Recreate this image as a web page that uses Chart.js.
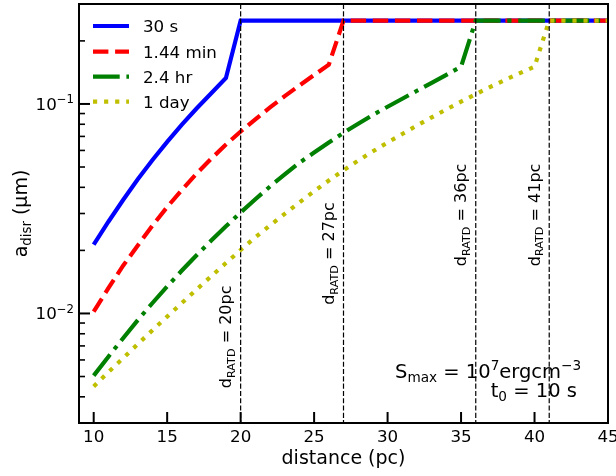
<!DOCTYPE html>
<html><head><meta charset="utf-8">
<script src="https://cdn.jsdelivr.net/npm/chart.js@4.4.0/dist/chart.umd.min.js"></script>
<style>html,body{margin:0;padding:0;background:#fff;}#wrap{width:616px;height:476px;}</style>
</head><body><div id="wrap"><canvas id="c" width="616" height="476"></canvas></div>
<script>
// ---------- data ----------
const distance = [10,11,12,13,14,15,16,17,18,19,20,21,22,23,24,25,26,27,28,29,30,31,32,33,34,35,36,37,38,39,40,41,42,43,44,45];
const a30s   = [0.0213,0.0274,0.0348,0.0437,0.0540,0.0659,0.0796,0.0951,0.1125,0.133,
                0.25,0.25,0.25,0.25,0.25,0.25,0.25,0.25,0.25,0.25,0.25,0.25,0.25,0.25,0.25,0.25,0.25,0.25,0.25,0.25,0.25,0.25,0.25,0.25,0.25,0.25];
const a144min= [0.0102,0.0132,0.0169,0.0211,0.0263,0.0322,0.0389,0.0465,0.0548,0.0640,0.0739,0.0845,0.0962,0.109,0.1225,0.1375,0.154,
                0.25,0.25,0.25,0.25,0.25,0.25,0.25,0.25,0.25,0.25,0.25,0.25,0.25,0.25,0.25,0.25,0.25,0.25,0.25];
const a24hr  = [0.00505,0.00622,0.00762,0.00929,0.01122,0.01346,0.01603,0.01897,0.02228,0.02606,0.03034,0.0351,0.0404,0.0461,0.0524,0.0586,0.0655,0.0728,0.0805,0.0887,0.0970,0.1059,0.1156,0.126,0.1377,0.1507,
                0.25,0.25,0.25,0.25,0.25,0.25,0.25,0.25,0.25,0.25];
const a1day  = [0.00448,0.00525,0.00612,0.00714,0.00832,0.00966,0.01122,0.0130,0.01507,0.0174,0.0201,0.0231,0.0263,0.0299,0.0339,0.0383,0.0431,0.0482,0.0537,0.0594,0.0655,0.0719,0.0789,0.0863,0.0942,0.1026,0.1114,0.1208,0.1303,0.1403,0.1507,
                0.25,0.25,0.25,0.25,0.25];
const seriesNames = ['30 s','1.44 min','2.4 hr','1 day'];
const dRatd = [20, 27, 36, 41];
const xTickLabels = [10,15,20,25,30,35,40,45];
const yMajorTicks = [0.01, 0.1];
const yMinorTicks = [0.003,0.004,0.005,0.006,0.007,0.008,0.009,0.02,0.03,0.04,0.05,0.06,0.07,0.08,0.09,0.2,0.3];

// ---------- styles ----------
const FONT = '"DejaVu Sans", sans-serif';
const LW = 4.17;
const styles = [
  {color:'#0000ff', dash:[]},
  {color:'#ff0000', dash:[15.4,6.7]},
  {color:'#008000', dash:[26.7,6.7,4.2,6.7]},
  {color:'#bfbf00', dash:[4.17,6.9]}
];
const seriesValues = [a30s, a144min, a24hr, a1day];

const datasets = seriesValues.map((vals, i) => ({
  label: seriesNames[i],
  data: distance.map((d, j) => ({x: d, y: vals[j]})),
  borderColor: styles[i].color,
  backgroundColor: styles[i].color,
  borderWidth: LW,
  borderDash: styles[i].dash,
  borderCapStyle: 'butt',
  borderJoinStyle: 'miter',
  pointRadius: 0,
  tension: 0,
  fill: false,
  order: 4 - i
}));

function drawMath(ctx, parts, x, y, size){
  let cx = x;
  for (const [t, k] of parts){
    const s = k ? size*0.7 : size;
    ctx.font = s + 'px ' + FONT;
    const dy = k === 1 ? size*0.22 : (k === 2 ? -size*0.40 : 0);
    ctx.fillText(t, cx, y + dy);
    cx += ctx.measureText(t).width;
  }
  return cx - x;
}
function mathWidth(ctx, parts, size){
  let w = 0;
  for (const [t, k] of parts){
    ctx.font = (k ? size*0.7 : size) + 'px ' + FONT;
    w += ctx.measureText(t).width;
  }
  return w;
}

const overlay = {
  id: 'overlay',
  afterDatasetsDraw(chart){
    const ctx = chart.ctx, ca = chart.chartArea;
    const xs = chart.scales.x, ys = chart.scales.y;
    ctx.save();
    // vertical d_RATD lines
    ctx.strokeStyle = '#000';
    ctx.lineWidth = 1.2;
    ctx.setLineDash([5.1, 2.2]);
    for (const d of dRatd){
      const px = xs.getPixelForValue(d);
      ctx.beginPath(); ctx.moveTo(px, ca.top); ctx.lineTo(px, ca.bottom); ctx.stroke();
    }
    ctx.setLineDash([]);
    // frame
    ctx.lineWidth = 2;
    ctx.strokeRect(ca.left, ca.top, ca.right - ca.left, ca.bottom - ca.top);
    // ticks
    ctx.lineWidth = 2;
    for (const v of xTickLabels){
      const px = xs.getPixelForValue(v);
      ctx.beginPath(); ctx.moveTo(px, ca.bottom); ctx.lineTo(px, ca.bottom - 11); ctx.stroke();
    }
    for (const v of yMajorTicks){
      const py = ys.getPixelForValue(v);
      ctx.beginPath(); ctx.moveTo(ca.left, py); ctx.lineTo(ca.left + 11, py); ctx.stroke();
    }
    ctx.lineWidth = 1.6;
    for (const v of yMinorTicks){
      const py = ys.getPixelForValue(v);
      ctx.beginPath(); ctx.moveTo(ca.left, py); ctx.lineTo(ca.left + 6, py); ctx.stroke();
    }
    // tick labels
    ctx.fillStyle = '#000';
    ctx.textBaseline = 'alphabetic';
    ctx.textAlign = 'center';
    ctx.font = '16.7px ' + FONT;
    for (const v of xTickLabels){
      ctx.fillText(String(v), xs.getPixelForValue(v), ca.bottom + 19);
    }
    ctx.textAlign = 'left';
    for (const v of yMajorTicks){
      const py = ys.getPixelForValue(v);
      const parts = [['10',0],['\u2212' + String(Math.round(-Math.log10(v))),2]];
      const w = mathWidth(ctx, parts, 16.7);
      drawMath(ctx, parts, ca.left - 5 - w, py + 6, 16.7);
    }
    // axis titles
    ctx.textAlign = 'center';
    ctx.font = '19px ' + FONT;
    ctx.fillText('distance (pc)', (ca.left + ca.right)/2, 464);
    ctx.textAlign = 'left';
    {
      const parts = [['a',0],['disr',1],[' (\u03bcm)',0]];
      const w = mathWidth(ctx, parts, 19);
      ctx.save();
      ctx.translate(27, (ca.top + ca.bottom)/2);
      ctx.rotate(-Math.PI/2);
      drawMath(ctx, parts, -w/2, 0, 19);
      ctx.restore();
    }
    // d_RATD labels
    const labelY = [0.0044, 0.011, 0.0168, 0.0168];
    dRatd.forEach((d, i) => {
      const px = xs.getPixelForValue(d) - 9.5;
      const py = ys.getPixelForValue(labelY[i]);
      ctx.save();
      ctx.translate(px, py);
      ctx.rotate(-Math.PI/2);
      drawMath(ctx, [['d',0],['RATD',1],[' = ' + d + 'pc',0]], 0, 0, 16);
      ctx.restore();
    });
    // annotation
    drawMath(ctx, [['S',0],['max',1],[' = 10',0],['7',2],['ergcm',0],['\u22123',2]], 395, 377.7, 19.5);
    drawMath(ctx, [['t',0],['0',1],[' = 10 s',0]], 490.7, 396.7, 19.5);
    // legend
    const rows = [26, 51.7, 76.7, 101.7];
    chart.data.datasets.forEach((ds, i) => {
      const y = rows[i];
      ctx.strokeStyle = ds.borderColor;
      ctx.lineWidth = ds.borderWidth;
      ctx.lineCap = 'butt';
      ctx.setLineDash(ds.borderDash);
      ctx.beginPath(); ctx.moveTo(ca.left + 14, y); ctx.lineTo(ca.left + 50, y); ctx.stroke();
      ctx.setLineDash([]);
      ctx.fillStyle = '#000';
      ctx.font = '16.7px ' + FONT;
      ctx.textAlign = 'left';
      ctx.fillText(ds.label, ca.left + 64, y + 6);
    });
    ctx.restore();
  }
};

new Chart(document.getElementById('c').getContext('2d'), {
  type: 'line',
  data: { datasets },
  options: {
    responsive: false,
    animation: false,
    devicePixelRatio: 1,
    layout: { padding: { top: 4, right: 8, left: 0, bottom: 0 } },
    plugins: { legend: { display: false }, tooltip: { enabled: false } },
    scales: {
      x: { type: 'linear', min: 9, max: 45, grid: { display: false }, border: { display: false },
           ticks: { display: false }, afterFit(s){ s.height = 53; } },
      y: { type: 'logarithmic', min: 0.003, max: 0.3, grid: { display: false }, border: { display: false },
           ticks: { display: false }, afterFit(s){ s.width = 79; } }
    }
  },
  plugins: [overlay]
});
</script>
</body></html>
